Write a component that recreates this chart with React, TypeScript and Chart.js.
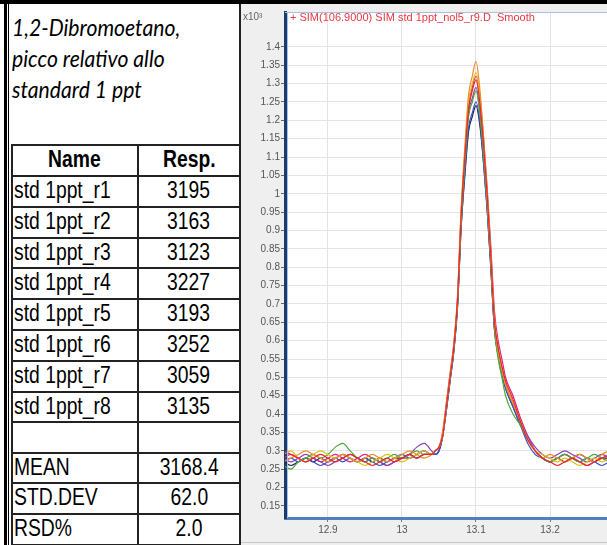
import React, { useEffect, useRef } from "react";
import { Chart, registerables } from "chart.js";
Chart.register(...registerables);

// ---------- DATA ----------
const retentionTimes = [
  12.84, 12.85, 12.86, 12.87, 12.88, 12.89, 12.9, 12.91, 12.92, 12.93, 12.94, 12.95, 12.96, 12.97, 12.98, 12.99, 13.0, 13.01, 13.02, 13.03, 13.04,
  13.045, 13.05, 13.055, 13.06, 13.065, 13.07, 13.075, 13.08, 13.085, 13.09, 13.095, 13.1, 13.105, 13.11, 13.115, 13.12, 13.125, 13.13, 13.135,
  13.14, 13.15, 13.16, 13.17, 13.18, 13.19, 13.2, 13.21, 13.22, 13.23, 13.24, 13.25, 13.26, 13.27, 13.28,
];

const run1 = [
  0.3, 0.29, 0.28, 0.27, 0.28, 0.29, 0.28, 0.27, 0.28, 0.29, 0.28, 0.27, 0.26, 0.27, 0.28, 0.27, 0.28, 0.29, 0.28, 0.29, 0.29,
  0.3, 0.31, 0.34, 0.42, 0.5, 0.58, 0.71, 0.94, 1.1, 1.23, 1.28, 1.31, 1.25, 1.14, 1.0, 0.83, 0.65, 0.58, 0.53,
  0.49, 0.44, 0.38, 0.33, 0.3, 0.28, 0.27, 0.26, 0.27, 0.28, 0.27, 0.26, 0.27, 0.28, 0.29,
];
const run2 = [
  0.27, 0.28, 0.29, 0.3, 0.29, 0.28, 0.27, 0.28, 0.29, 0.28, 0.27, 0.28, 0.29, 0.28, 0.27, 0.28, 0.29, 0.3, 0.29, 0.28, 0.29,
  0.3, 0.31, 0.35, 0.43, 0.51, 0.59, 0.72, 0.96, 1.13, 1.27, 1.32, 1.36, 1.29, 1.16, 1.01, 0.84, 0.66, 0.58, 0.53,
  0.48, 0.43, 0.38, 0.33, 0.3, 0.28, 0.29, 0.28, 0.27, 0.28, 0.29, 0.28, 0.27, 0.29, 0.3,
];
const run3 = [
  0.29, 0.3, 0.28, 0.27, 0.29, 0.3, 0.29, 0.28, 0.29, 0.28, 0.27, 0.26, 0.27, 0.28, 0.29, 0.28, 0.27, 0.28, 0.29, 0.3, 0.29,
  0.3, 0.31, 0.34, 0.42, 0.5, 0.58, 0.71, 0.95, 1.11, 1.25, 1.3, 1.33, 1.27, 1.15, 1.0, 0.83, 0.65, 0.57, 0.52,
  0.48, 0.43, 0.38, 0.33, 0.3, 0.29, 0.28, 0.27, 0.28, 0.27, 0.26, 0.27, 0.28, 0.27, 0.28,
];
const run4 = [
  0.26, 0.25, 0.27, 0.28, 0.29, 0.28, 0.29, 0.31, 0.32, 0.3, 0.28, 0.27, 0.28, 0.27, 0.28, 0.29, 0.28, 0.29, 0.3, 0.29, 0.29,
  0.3, 0.31, 0.34, 0.42, 0.5, 0.58, 0.7, 0.92, 1.08, 1.21, 1.25, 1.28, 1.22, 1.11, 0.97, 0.81, 0.63, 0.55, 0.5,
  0.45, 0.4, 0.37, 0.33, 0.3, 0.28, 0.27, 0.28, 0.29, 0.28, 0.27, 0.28, 0.29, 0.28, 0.27,
];
const run5 = [
  0.27, 0.28, 0.27, 0.28, 0.27, 0.26, 0.27, 0.28, 0.27, 0.28, 0.27, 0.28, 0.27, 0.26, 0.27, 0.28, 0.29, 0.28, 0.29, 0.3, 0.29,
  0.29, 0.3, 0.34, 0.41, 0.49, 0.57, 0.69, 0.91, 1.06, 1.18, 1.22, 1.25, 1.2, 1.09, 0.96, 0.8, 0.63, 0.56, 0.51,
  0.47, 0.42, 0.37, 0.32, 0.29, 0.28, 0.27, 0.28, 0.29, 0.28, 0.27, 0.28, 0.27, 0.26, 0.27,
];
const run6 = [
  0.28, 0.27, 0.28, 0.29, 0.28, 0.27, 0.26, 0.27, 0.28, 0.29, 0.28, 0.27, 0.28, 0.27, 0.26, 0.27, 0.28, 0.29, 0.31, 0.32, 0.3,
  0.29, 0.3, 0.34, 0.42, 0.5, 0.58, 0.7, 0.93, 1.09, 1.22, 1.26, 1.29, 1.23, 1.12, 0.98, 0.82, 0.64, 0.57, 0.52,
  0.48, 0.43, 0.38, 0.34, 0.31, 0.29, 0.28, 0.29, 0.3, 0.29, 0.28, 0.27, 0.28, 0.29, 0.28,
];
const run7 = [
  0.28, 0.29, 0.28, 0.27, 0.28, 0.27, 0.28, 0.29, 0.28, 0.27, 0.28, 0.29, 0.28, 0.27, 0.26, 0.27, 0.28, 0.28, 0.29, 0.3, 0.29,
  0.3, 0.31, 0.35, 0.43, 0.51, 0.59, 0.71, 0.95, 1.11, 1.24, 1.29, 1.32, 1.27, 1.16, 1.02, 0.86, 0.68, 0.6, 0.55,
  0.5, 0.45, 0.39, 0.34, 0.3, 0.28, 0.27, 0.28, 0.29, 0.28, 0.27, 0.26, 0.27, 0.28, 0.27,
];
const run8 = [
  0.27, 0.26, 0.27, 0.28, 0.27, 0.28, 0.27, 0.28, 0.29, 0.28, 0.27, 0.28, 0.27, 0.28, 0.27, 0.28, 0.28, 0.29, 0.28, 0.29, 0.29,
  0.29, 0.3, 0.34, 0.41, 0.49, 0.57, 0.69, 0.91, 1.05, 1.17, 1.21, 1.24, 1.19, 1.09, 0.96, 0.8, 0.63, 0.56, 0.51,
  0.47, 0.42, 0.37, 0.33, 0.3, 0.28, 0.27, 0.28, 0.27, 0.28, 0.29, 0.28, 0.27, 0.28, 0.28,
];

const seriesValues = [run1, run2, run3, run4, run5, run6, run7, run8];
const seriesLabels = ["std 1ppt_r1", "std 1ppt_r2", "std 1ppt_r3", "std 1ppt_r4", "std 1ppt_r5", "std 1ppt_r6", "std 1ppt_r7", "std 1ppt_r8"];
const seriesColors = ["#e8262d", "#f28c28", "#d8c31a", "#4daa3a", "#3d4fd0", "#9040b0", "#e0247f", "#1c1f4a"];

const yTickValues = [0.15, 0.2, 0.25, 0.3, 0.35, 0.4, 0.45, 0.5, 0.55, 0.6, 0.65, 0.7, 0.75, 0.8, 0.85, 0.9, 0.95, 1, 1.05, 1.1, 1.15, 1.2, 1.25, 1.3, 1.35, 1.4];
const xTickValues = [12.9, 13.0, 13.1, 13.2];

const titleLines = ["1,2-Dibromoetano,", "picco relativo allo", "standard 1 ppt"];
const tableHeader = ["Name", "Resp."];
const tableNames = ["std 1ppt_r1", "std 1ppt_r2", "std 1ppt_r3", "std 1ppt_r4", "std 1ppt_r5", "std 1ppt_r6", "std 1ppt_r7", "std 1ppt_r8"];
const tableResp = ["3195", "3163", "3123", "3227", "3193", "3252", "3059", "3135"];
const summaryLabels = ["MEAN", "STD.DEV", "RSD%"];
const summaryValues = ["3168.4", "62.0", "2.0"];
const chartTitle = "+ SIM(106.9000) SIM std 1ppt_nol5_r9.D  Smooth";
const yExponent = "x10³";

// ---------- CHART ----------
function Chromatogram() {
  const ref = useRef<HTMLCanvasElement | null>(null);
  useEffect(() => {
    if (!ref.current) return;
    const bgPlugin = {
      id: "bg",
      beforeDraw(chart: any) {
        const { ctx, chartArea: a, width, height } = chart;
        ctx.save();
        ctx.fillStyle = "#efefef";
        ctx.fillRect(0, 0, width, height);
        ctx.fillStyle = "#ffffff";
        ctx.fillRect(a.left, a.top, a.right - a.left, a.bottom - a.top);
        ctx.restore();
      },
      afterDraw(chart: any) {
        const { ctx, chartArea: a, width, height } = chart;
        ctx.save();
        ctx.strokeStyle = "#a9c2e2";
        ctx.lineWidth = 1;
        ctx.beginPath();
        ctx.moveTo(a.left, a.top + 0.5);
        ctx.lineTo(a.right, a.top + 0.5);
        ctx.moveTo(a.left + 2.5, a.top);
        ctx.lineTo(a.left + 2.5, a.bottom);
        ctx.stroke();
        ctx.strokeStyle = "#c8c8c8";
        ctx.beginPath();
        ctx.moveTo(0, height - 2.5);
        ctx.lineTo(width, height - 2.5);
        ctx.stroke();
        ctx.fillStyle = "#e8383d";
        ctx.font = "11px 'Liberation Sans', Arial, sans-serif";
        ctx.textBaseline = "middle";
        ctx.textAlign = "left";
        ctx.fillText(chartTitle, a.left + 5, a.top + 6);
        ctx.fillStyle = "#666";
        ctx.font = "10px 'Liberation Sans', Arial, sans-serif";
        ctx.fillText(yExponent, 2, a.top + 5);
        ctx.restore();
      },
    };

    const chart = new Chart(ref.current, {
      type: "line",
      data: {
        datasets: seriesValues.map((vals, i) => ({
          label: seriesLabels[i],
          data: retentionTimes.map((t, j) => ({ x: t, y: vals[j] })),
          borderColor: seriesColors[i],
          borderWidth: 1.2,
          pointRadius: 0,
          fill: false,
          cubicInterpolationMode: "monotone" as const,
        })),
      },
      options: {
        animation: false,
        responsive: false,
        devicePixelRatio: 1,
        layout: { padding: { top: 8, left: 0, right: 0, bottom: 0 } },
        plugins: { legend: { display: false }, tooltip: { enabled: false }, title: { display: false } },
        scales: {
          x: {
            type: "linear",
            min: 12.842,
            max: 13.277,
            afterFit(scale: any) { scale.height = 27; },
            afterBuildTicks(scale: any) { scale.ticks = xTickValues.map((v) => ({ value: v })); },
            ticks: {
              color: "#555",
              font: { size: 10, family: "'Liberation Sans', Arial, sans-serif" },
              padding: 2,
              maxRotation: 0,
              callback: (v: any) => String(+Number(v).toFixed(2)),
            },
            grid: { color: "#e4e4e4", tickColor: "#777", tickLength: 4 },
            border: { color: "#4f7fbf", width: 3 },
          },
          y: {
            type: "linear",
            min: 0.117,
            max: 1.495,
            afterFit(scale: any) { scale.width = 44; },
            afterBuildTicks(scale: any) { scale.ticks = yTickValues.map((v) => ({ value: v })); },
            ticks: {
              color: "#555",
              font: { size: 10, family: "'Liberation Sans', Arial, sans-serif" },
              padding: 1,
              callback: (v: any) => String(+Number(v).toFixed(2)),
            },
            grid: { color: "#e4e4e4", tickColor: "#666", tickLength: 4 },
            border: { color: "#1e3b6f", width: 3 },
          },
        },
      },
      plugins: [bgPlugin],
    } as any);
    return () => chart.destroy();
  }, []);
  return (
    <canvas
      ref={ref}
      width={366}
      height={541}
      style={{ position: "absolute", left: 241, top: 4, width: 366, height: 541 }}
    />
  );
}

// ---------- TABLE ----------
const rowBounds = [145, 176, 207, 238, 268, 299, 330, 361, 392, 422, 453, 483, 514, 545];
const colLeft = 11;
const colMid = 137;
const colRight = 239;

function Cell({ top, height, left, width, text, align, bold }: any) {
  return (
    <div
      style={{
        position: "absolute",
        top,
        left,
        width,
        height,
        display: "flex",
        alignItems: "center",
        justifyContent: align === "left" ? "flex-start" : "center",
        paddingBottom: 3,
        boxSizing: "border-box",
        overflow: "visible",
      }}
    >
      <span
        style={{
          display: "inline-block",
          whiteSpace: "nowrap",
          fontFamily: "'Liberation Sans', Arial, sans-serif",
          fontSize: 23,
          fontWeight: bold ? 700 : 400,
          color: "#000",
          transform: "scaleX(0.84)",
          transformOrigin: align === "left" ? "left center" : "center center",
          lineHeight: "26px",
        }}
      >
        {text}
      </span>
    </div>
  );
}

function LeftPanel() {
  const rows: { a: string; b: string; bold?: boolean }[] = [
    { a: tableHeader[0], b: tableHeader[1], bold: true },
    ...tableNames.map((n, i) => ({ a: n, b: tableResp[i] })),
    { a: "", b: "" },
    ...summaryLabels.map((n, i) => ({ a: n, b: summaryValues[i] })),
  ];
  const lineColor = "#222";
  return (
    <div style={{ position: "absolute", left: 0, top: 0, width: 241, height: 545, background: "#fff" }}>
      <div style={{ position: "absolute", left: 4, top: 0, width: 3, height: 545, background: "#000" }} />
      <div style={{ position: "absolute", left: 8, top: 0, width: 1, height: 545, background: "#000" }} />
      <div style={{ position: "absolute", left: colRight, top: 0, width: 2, height: 545, background: lineColor }} />
      {titleLines.map((t, i) => (
        <div
          key={i}
          style={{
            position: "absolute",
            left: 12,
            top: 12 + i * 31,
            fontFamily: "Lato, 'Open Sans', sans-serif",
            fontStyle: "italic",
            fontSize: 23,
            lineHeight: "31px",
            color: "#000",
            whiteSpace: "nowrap",
            transform: "scaleX(0.92)",
            transformOrigin: "left center",
          }}
        >
          {t}
        </div>
      ))}
      {rowBounds.map((y, i) => (
        <div key={"h" + i} style={{ position: "absolute", left: colLeft, top: y - 1, width: colRight - colLeft + 1, height: 2, background: lineColor }} />
      ))}
      <div style={{ position: "absolute", left: colLeft, top: rowBounds[0] - 1, width: 2, height: 545 - rowBounds[0] + 1, background: lineColor }} />
      <div style={{ position: "absolute", left: colMid, top: rowBounds[0] - 1, width: 2, height: 545 - rowBounds[0] + 1, background: lineColor }} />
      {rows.map((r, i) => {
        const top = rowBounds[i];
        const h = rowBounds[i + 1] - rowBounds[i];
        return (
          <React.Fragment key={"r" + i}>
            <Cell top={top} height={h} left={r.bold ? colLeft : colLeft + 3} width={colMid - colLeft} text={r.a} align={r.bold ? "center" : "left"} bold={r.bold} />
            <Cell top={top} height={h} left={colMid + 1} width={colRight - colMid} text={r.b} align="center" bold={r.bold} />
          </React.Fragment>
        );
      })}
    </div>
  );
}

export default function App() {
  return (
    <div style={{ position: "fixed", left: 0, top: 0, width: 607, height: 545, background: "#fff", overflow: "hidden" }}>
      <LeftPanel />
      <Chromatogram />
      <div style={{ position: "absolute", left: 0, top: 0, width: 607, height: 4, background: "#000" }} />
    </div>
  );
}
